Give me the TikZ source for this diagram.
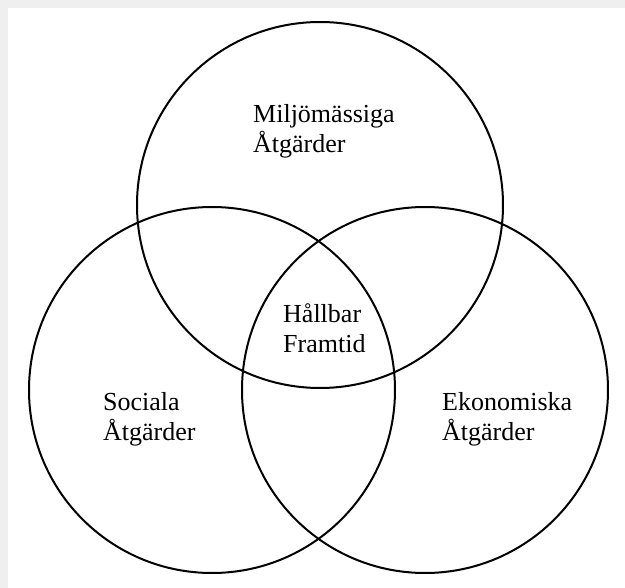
\documentclass[tikz,border=0pt]{standalone}
\usepackage{fontspec}
\setmainfont{Liberation Serif}
\definecolor{framegray}{HTML}{EFEFEF}

\begin{document}
\begin{tikzpicture}[x=1pt,y=-1pt,
    ring/.style={draw,circle,line width=2pt,inner sep=0pt,minimum size=366pt},
    label/.style={anchor=base west,align=left,inner sep=0pt,
      font=\fontsize{26}{30}\selectfont}]
    \useasboundingbox (0,0) rectangle (625,588);
    \fill[framegray] (0,0) rectangle (625,588);
    \fill[white] (8,8) rectangle (625,588);
    \node[ring] (miljo) at (320,205) {};
    \node[ring] (social) at (212,390) {};
    \node[ring] (ekonom) at (425,390) {};
    \node[label] (miljotext) at (253,153) {Miljömässiga\\Åtgärder};
    \node[label] (hallbar) at (283,353) {Hållbar\\Framtid};
    \node[label] (socialtext) at (103,441) {Sociala\\Åtgärder};
    \node[label] (ekonomtext) at (442,441) {Ekonomiska\\Åtgärder};
  \end{tikzpicture}
\end{document}
